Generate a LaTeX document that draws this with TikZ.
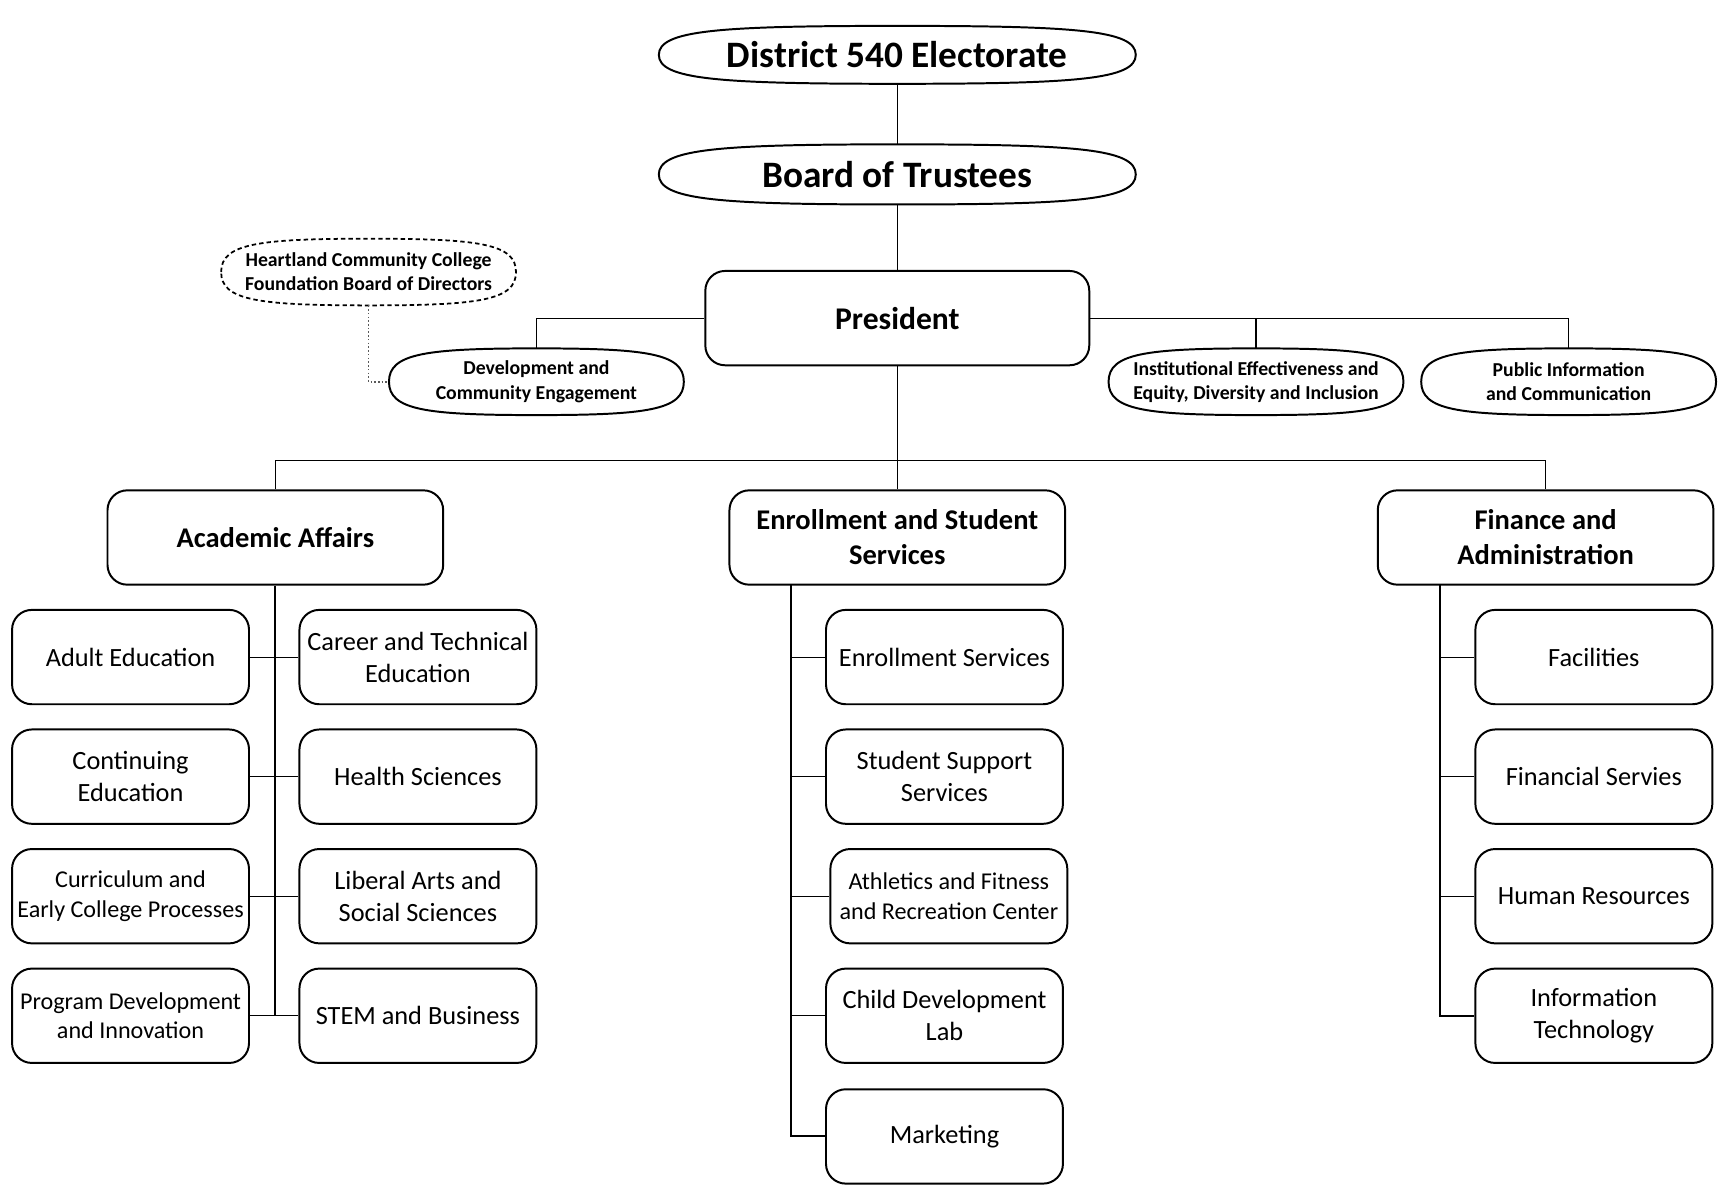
\documentclass[tikz,border=0pt]{standalone}
\usepackage{fontspec}
\setmainfont{Carlito}
\usetikzlibrary{calc}

% Outline of a flattened oval drawn around a (borderless) node
\newcommand\lensoutline[2][]{%
  \draw[#1] (#2.west)
    .. controls ($(#2.west)!0.85!(#2.north west)$) and ($(#2.north)!0.75!(#2.north west)$) .. (#2.north)
    .. controls ($(#2.north)!0.75!(#2.north east)$) and ($(#2.east)!0.85!(#2.north east)$) .. (#2.east)
    .. controls ($(#2.east)!0.85!(#2.south east)$) and ($(#2.south)!0.75!(#2.south east)$) .. (#2.south)
    .. controls ($(#2.south)!0.75!(#2.south west)$) and ($(#2.west)!0.85!(#2.south west)$) .. (#2.west) -- cycle;}

\tikzset{
  unitbox/.style={draw, line width=0.9pt, rounded corners=9pt, fill=white, align=center,
    minimum width=108pt, minimum height=43pt, inner sep=1pt,
    font=\fontsize{12}{14.6}\selectfont},
  smalltext/.style={font=\fontsize{11}{13.5}\selectfont},
  headbox/.style={unitbox, minimum width=153pt, font=\bfseries\fontsize{13}{15.9}\selectfont},
  lens/.style={minimum width=134pt, minimum height=30pt, inner sep=0pt, align=center,
    font=\bfseries\fontsize{9}{11}\selectfont},
  bigoval/.style={lens, minimum width=217pt, minimum height=26pt,
    font=\bfseries\fontsize{17}{20}\selectfont},
  solidline/.style={line width=0.9pt},
  dashline/.style={line width=0.8pt, dash pattern=on 2pt off 1.4pt},
  link/.style={line width=0.5pt},
  spine/.style={line width=0.9pt},
  dotlink/.style={line width=0.7pt, black!65, densely dotted},
}

\begin{document}
\begin{tikzpicture}[x=0.5pt, y=-0.5pt]
\useasboundingbox (0,0) rectangle (1568,1081);

% governance
\node[bigoval] (elec) at (818,50) {District 540 Electorate};
\node[bigoval, minimum height=27pt] (board) at (818,159) {Board of Trustees};
\node[unitbox, minimum width=175pt, font=\bfseries\fontsize{14.4}{17}\selectfont] (pres) at (818,290) {President};

% offices reporting to the president
\node[lens] (heart) at (336,248) {Heartland Community College\\Foundation Board of Directors};
\node[lens] (dev) at (489,348) {Development and\\Community Engagement};
\node[lens] (inst) at (1145,348) {Institutional Effectiveness and\\Equity, Diversity and Inclusion};
\node[lens] (pub) at (1430,348) {Public Information\\and Communication};

\lensoutline[solidline]{elec}
\lensoutline[solidline]{board}
\lensoutline[dashline]{heart}
\lensoutline[solidline]{dev}
\lensoutline[solidline]{inst}
\lensoutline[solidline]{pub}

\draw[link] (elec.south) -- (board.north);
\draw[link] (board.south) -- (pres.north);
\draw[link] (pres.west) -| (dev.north);
\draw[link] (pres.east) -| (inst.north);
\draw[link] (pres.east) -| (pub.north);
\draw[dotlink] (heart.south) |- (dev.west);

% divisions
\node[headbox] (acad) at (251,490) {Academic Affairs};
\node[headbox] (enr) at (818,490) {Enrollment and Student\\Services};
\node[headbox] (fin) at (1409,490) {Finance and\\Administration};

\coordinate (bus) at (818,420);
\draw[link] (pres.south) -- (bus);
\draw[link] (acad.north) |- (bus) -| (fin.north);
\draw[link] (bus) -- (enr.north);

% Academic Affairs units
\node[unitbox] (l1) at (119,599) {Adult Education};
\node[unitbox] (l2) at (119,708) {Continuing\\Education};
\node[unitbox, smalltext] (l3) at (119,817) {Curriculum and\\Early College Processes};
\node[unitbox, smalltext] (l4) at (119,926) {Program Development\\and Innovation};
\node[unitbox] (r1) at (381,599) {Career and Technical\\Education};
\node[unitbox] (r2) at (381,708) {Health Sciences};
\node[unitbox] (r3) at (381,817) {Liberal Arts and\\Social Sciences};
\node[unitbox] (r4) at (381,926) {STEM and Business};

\draw[spine] (acad.south) -- (acad.south |- l4.east);
\foreach \i in {1,...,4} \draw[link] (l\i.east) -- (r\i.west);

% Enrollment and Student Services units
\node[unitbox] (e1) at (861,599) {Enrollment Services};
\node[unitbox] (e2) at (861,708) {Student Support\\Services};
\node[unitbox, smalltext] (e3) at (865,817) {Athletics and Fitness\\and Recreation Center};
\node[unitbox] (e4) at (861,926) {Child Development\\Lab};
\node[unitbox] (e5) at (861,1036) {Marketing};

\coordinate (espine) at (721,533);
\draw[spine] (espine) |- (e5.west);
\foreach \n in {e1,e2,e3,e4} \draw[link] (espine |- \n.west) -- (\n.west);

% Finance and Administration units
\node[unitbox] (f1) at (1453,599) {Facilities};
\node[unitbox] (f2) at (1453,708) {Financial Servies};
\node[unitbox] (f3) at (1453,817) {Human Resources};
\node[unitbox] (f4) at (1453,926) {Information\\Technology};

\coordinate (fspine) at (1313,533);
\draw[spine] (fspine) |- (f4.west);
\foreach \n in {f1,f2,f3} \draw[link] (fspine |- \n.west) -- (\n.west);
\end{tikzpicture}
\end{document}
